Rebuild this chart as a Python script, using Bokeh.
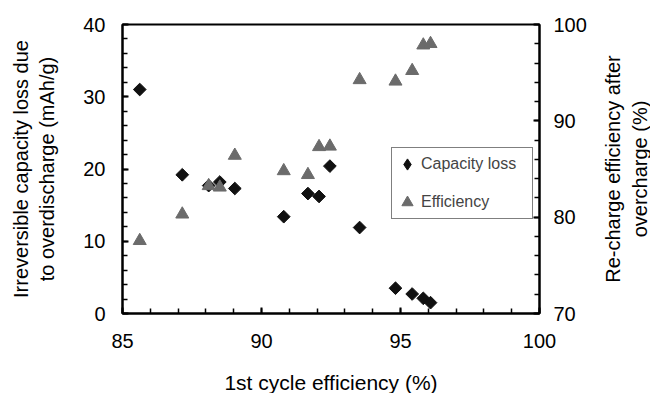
import math
from bokeh.plotting import figure
from bokeh.models import Range1d, LinearAxis, SingleIntervalTicker, Legend, LegendItem, Label
from bokeh.embed import file_html
from bokeh.resources import INLINE

# Data
first_cycle_eff = [85.62, 87.15, 88.10, 88.50, 89.04, 90.80, 91.67, 92.07, 92.46, 93.53, 94.82, 95.42, 95.82, 96.08]
capacity_loss = [31.0, 19.2, 17.7, 18.2, 17.3, 13.4, 16.6, 16.2, 20.4, 11.9, 3.5, 2.7, 2.1, 1.5]
recharge_eff = [77.55, 80.3, 83.25, 83.1, 86.4, 84.8, 84.4, 87.3, 87.35, 94.25, 94.1, 95.2, 97.85, 98.0]

x_title = "1st cycle efficiency (%)"
y_title = "Irreversible capacity loss due\nto overdischarge (mAh/g)"
y2_title = "Re-charge efficiency after\novercharge (%)"
series_names = ["Capacity loss", "Efficiency"]

FONT = "Liberation Sans"
DIAMOND_COLOR = "#111111"
TRIANGLE_COLOR = "#6b6b6b"

p = figure(width=650, height=393, output_backend="svg", toolbar_location=None,
           x_range=Range1d(85, 100), y_range=Range1d(0, 40),
           min_border_left=122, min_border_right=111, min_border_top=24, min_border_bottom=80,
           background_fill_color="white", border_fill_color="white")
p.extra_y_ranges = {"eff": Range1d(70, 100)}
p.grid.visible = False
p.outline_line_color = "black"
p.outline_line_width = 2

right_axis = LinearAxis(y_range_name="eff")
p.add_layout(right_axis, "right")

def style(ax, interval, standoff):
    ax.ticker = SingleIntervalTicker(interval=interval, num_minor_ticks=5)
    ax.axis_line_color = "black"
    ax.axis_line_width = 2
    ax.major_tick_in = 6
    ax.major_tick_out = 0
    ax.minor_tick_in = 5
    ax.minor_tick_out = 0
    ax.major_tick_line_width = 2
    ax.minor_tick_line_width = 1.5
    ax.major_tick_line_color = "black"
    ax.minor_tick_line_color = "black"
    ax.major_label_text_font = FONT
    ax.major_label_text_font_size = "20px"
    ax.major_label_text_color = "black"
    ax.major_label_standoff = standoff
    ax.axis_label_text_font = FONT
    ax.axis_label_text_font_size = "20px"
    ax.axis_label_text_font_style = "normal"
    ax.axis_label_text_color = "black"

xa = p.xaxis[0]
style(xa, 5, 20)

ya = p.yaxis[0]
style(ya, 10, 17)
ya.axis_label = y_title
ya.axis_label_standoff = 22

style(right_axis, 10, 14)

# bottom title as a label in its own side panel below the x axis
p.add_layout(Label(x=208.5, y=-9, x_units="screen", y_units="screen", text=x_title,
                   text_align="center", text_baseline="alphabetic",
                   text_font=FONT, text_font_size="21px", text_color="black"), "below")

# right-hand title as a label in its own side panel (reads bottom to top)
p.add_layout(Label(x=37, y=144.5, x_units="screen", y_units="screen", text=y2_title,
                   angle=math.pi / 2, text_align="center", text_baseline="middle",
                   text_font=FONT, text_font_size="20px", text_color="black"), "right")

# legend swatch for the diamond series: first point, hidden under its own marker
leg_d = p.scatter(first_cycle_eff[:1], capacity_loss[:1], marker="diamond", size=8,
                  fill_color=DIAMOND_COLOR, line_color=DIAMOND_COLOR)
r1 = p.scatter(first_cycle_eff, capacity_loss, marker="square", angle=math.pi / 4,
               size=9, fill_color=DIAMOND_COLOR, line_color=DIAMOND_COLOR)
r2 = p.scatter(first_cycle_eff, recharge_eff, marker="triangle", size=13,
               fill_color=TRIANGLE_COLOR, line_color=TRIANGLE_COLOR, y_range_name="eff")

legend = Legend(items=[LegendItem(label=series_names[0], renderers=[leg_d]),
                       LegendItem(label=series_names[1], renderers=[r2])],
                location=(269, 94), label_text_font=FONT, label_text_font_size="16px",
                glyph_width=28, glyph_height=30, label_height=30, label_width=110,
                label_standoff=0, spacing=8, padding=1, margin=0,
                border_line_color="black", border_line_width=1,
                background_fill_color="white", background_fill_alpha=1)
p.add_layout(legend)

open("out.html", "w").write(file_html(p, INLINE))
